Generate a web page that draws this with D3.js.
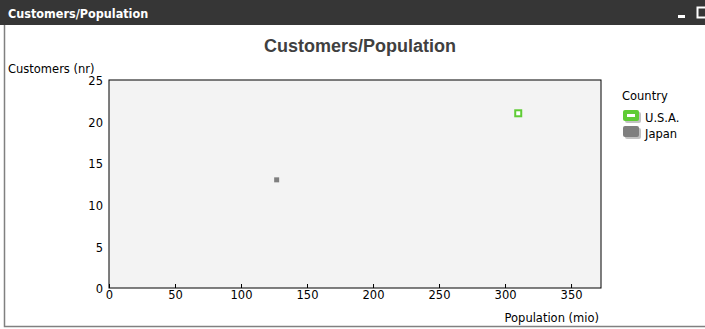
<!DOCTYPE html>
<html><head><meta charset="utf-8">
<script src="https://cdn.jsdelivr.net/npm/d3@7"></script>
<style>body{margin:0;background:#fff;} svg{display:block;}</style>
</head><body>
<svg id="c" width="705" height="329"></svg>
<script>
const countries = ["U.S.A.", "Japan"];
const population = [310, 127];
const customers = [21, 13];
const colors = ["#5fcc35", "#7f7f7f"];
const xTicks = [0, 50, 100, 150, 200, 250, 300, 350];
const yTicks = [0, 5, 10, 15, 20, 25];

const svg = d3.select("#c");
const W = 705, H = 329;
// panel frame
svg.append("rect").attr("x", 4.5).attr("y", 0.5).attr("width", 710).attr("height", 326)
  .attr("fill", "#fff").attr("stroke", "#808080").attr("stroke-width", 1.5);
svg.append("rect").attr("x", 0).attr("y", 0).attr("width", W).attr("height", 25).attr("fill", "#363636");
svg.append("text").attr("x", 8).attr("y", 18).text("Customers/Population")
  .attr("fill", "#fff").attr("font-family", "DejaVu Sans Condensed").attr("font-weight", "bold").attr("font-size", 12.5);
svg.append("rect").attr("x", 678).attr("y", 15).attr("width", 7).attr("height", 3).attr("fill", "#fff");
svg.append("rect").attr("x", 697.5).attr("y", 7.5).attr("width", 9).attr("height", 10).attr("fill", "none").attr("stroke", "#fff").attr("stroke-width", 2);

svg.append("text").attr("x", 360).attr("y", 52).attr("text-anchor", "middle")
  .attr("font-family", "Liberation Sans, Arial").attr("font-weight", "bold").attr("font-size", 18)
  .attr("fill", "#404040").text("Customers/Population");

const m = {l: 109, t: 80, r: 601, b: 288};
const x = d3.scaleLinear().domain([0, 372.7]).range([m.l, m.r]);
const y = d3.scaleLinear().domain([0, 25]).range([m.b, m.t]);

svg.append("rect").attr("x", m.l).attr("y", m.t).attr("width", m.r - m.l).attr("height", m.b - m.t)
  .attr("fill", "#f3f3f3").attr("stroke", "#000").attr("stroke-width", 1);

const font = "DejaVu Sans";
const xa = svg.append("g").attr("transform", `translate(0,${m.b})`)
  .call(d3.axisBottom(x).tickValues(xTicks).tickSize(4).tickSizeOuter(0).tickPadding(-1));
xa.select(".domain").remove();
xa.selectAll("line").attr("transform", "translate(0,-4)").attr("stroke", "#000");
xa.selectAll("text").attr("font-family", font).attr("font-size", 11.5).attr("fill", "#000");

const ya = svg.append("g").attr("transform", `translate(${m.l},0)`)
  .call(d3.axisLeft(y).tickValues(yTicks).tickSize(0).tickPadding(6));
ya.select(".domain").remove();
ya.selectAll("text").attr("font-family", font).attr("font-size", 11.5).attr("fill", "#000").attr("dy", "0.4em");

svg.append("text").attr("x", 8).attr("y", 73).text("Customers (nr)")
  .attr("font-family", font).attr("font-size", 11.5).attr("fill", "#000");
svg.append("text").attr("x", 599).attr("y", 322).attr("text-anchor", "end").text("Population (mio)")
  .attr("font-family", font).attr("font-size", 11.5).attr("fill", "#000");

// points
const data = countries.map((c, i) => ({c, p: population[i], v: customers[i], col: colors[i]}));
svg.selectAll(".pt").data(data).enter().append("rect")
  .attr("x", d => x(d.p) - (d.c === "U.S.A." ? 3 : 2.5))
  .attr("y", d => y(d.v) - (d.c === "U.S.A." ? 3 : 2.5))
  .attr("width", d => d.c === "U.S.A." ? 6 : 5)
  .attr("height", d => d.c === "U.S.A." ? 6 : 5)
  .attr("fill", d => d.c === "U.S.A." ? "#fff" : d.col)
  .attr("stroke", d => d.c === "U.S.A." ? d.col : "none")
  .attr("stroke-width", 2);

// legend
const lg = svg.append("g");
lg.append("text").attr("x", 622).attr("y", 100).text("Country")
  .attr("font-family", font).attr("font-size", 11.5).attr("fill", "#000");
data.forEach((d, i) => {
  const yy = 118 + i * 16;
  const g = lg.append("g");
  g.append("rect").attr("x", 625).attr("y", yy - 6).attr("width", 16).attr("height", 11).attr("rx", 2).attr("fill", "#999").attr("opacity", 0.6);
  g.append("rect").attr("x", 623).attr("y", yy - 8).attr("width", 16).attr("height", 11).attr("rx", 2).attr("fill", d.col);
  if (d.c === "U.S.A.") g.append("rect").attr("x", 627).attr("y", yy - 4).attr("width", 8).attr("height", 3).attr("fill", "#fff");
  g.append("text").attr("x", 645).attr("y", yy + 4).text(d.c)
    .attr("font-family", font).attr("font-size", 11.5).attr("fill", "#000");
});
</script>
</body></html>
